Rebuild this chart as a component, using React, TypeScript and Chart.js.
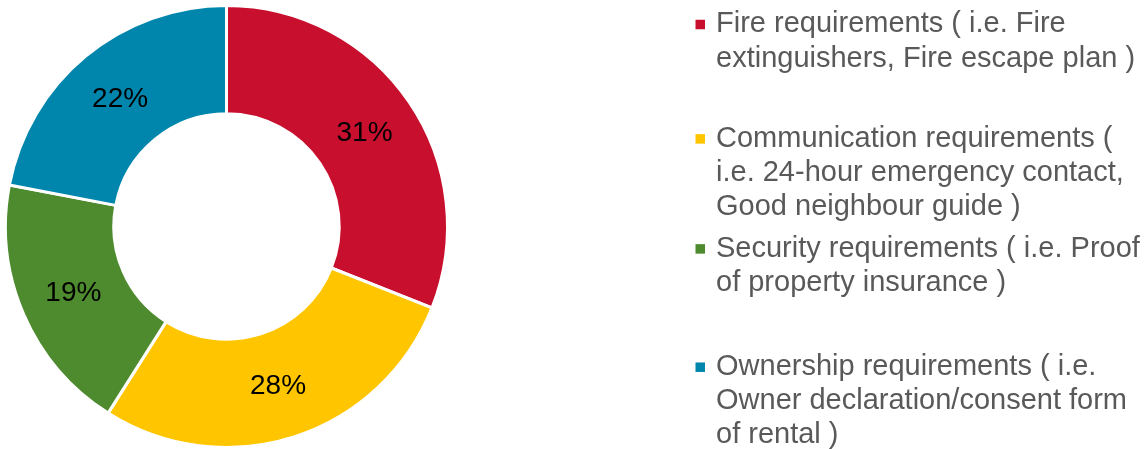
import React, { useEffect, useRef } from "react";
import { Chart, registerables } from "chart.js";

Chart.register(...registerables);

// ---- data ----
const categories: string[][] = [
  ["Fire requirements ( i.e. Fire", "extinguishers, Fire escape plan )"],
  ["Communication requirements (", "i.e. 24-hour emergency contact,", "Good neighbour guide )"],
  ["Security requirements ( i.e. Proof", "of property insurance )"],
  ["Ownership requirements ( i.e.", "Owner declaration/consent form", "of rental )"],
];
const shareValues: number[] = [31, 28, 19, 22];
const sliceColors: string[] = ["#C8102E", "#FFC600", "#4E8B2E", "#0086AD"];

// ---- layout / style ----
const FONT = '"Liberation Sans", Arial, sans-serif';
const LEGEND_X_MARKER = 695.5;
const LEGEND_X_TEXT = 716;
const LEGEND_BASELINES = [32.3, 146.7, 256.7, 375];
const LEGEND_LINE_H = 34.2;
const MARKER_SIZE = 9.5;

const pctLabelPlugin = {
  id: "pctLabels",
  afterDatasetsDraw(chart: any) {
    const ctx = chart.ctx;
    const meta = chart.getDatasetMeta(0);
    const data = chart.data.datasets[0].data as number[];
    ctx.save();
    ctx.font = `28px ${FONT}`;
    ctx.fillStyle = "#000000";
    ctx.textAlign = "center";
    ctx.textBaseline = "middle";
    meta.data.forEach((arc: any, i: number) => {
      const p = arc.tooltipPosition(false);
      ctx.fillText(`${data[i]}%`, p.x, p.y + 1);
    });
    ctx.restore();
  },
};

const sideLegendPlugin = {
  id: "sideLegend",
  afterDraw(chart: any) {
    const ctx = chart.ctx;
    const labels = chart.data.labels as string[][];
    const colors = chart.data.datasets[0].backgroundColor as string[];
    ctx.save();
    ctx.font = `29px ${FONT}`;
    ctx.textAlign = "left";
    ctx.textBaseline = "alphabetic";
    labels.forEach((lines, i) => {
      const base = LEGEND_BASELINES[i];
      ctx.fillStyle = colors[i];
      ctx.fillRect(LEGEND_X_MARKER, base - 7.8 - MARKER_SIZE / 2, MARKER_SIZE, MARKER_SIZE);
      ctx.fillStyle = "#595959";
      lines.forEach((line, j) => {
        ctx.fillText(line, LEGEND_X_TEXT, base + j * LEGEND_LINE_H);
      });
    });
    ctx.restore();
  },
};

export default function App() {
  const canvasRef = useRef<HTMLCanvasElement | null>(null);

  useEffect(() => {
    if (!canvasRef.current) return;
    const chart = new Chart(canvasRef.current, {
      type: "doughnut",
      data: {
        labels: categories as any,
        datasets: [
          {
            data: shareValues,
            backgroundColor: sliceColors,
            borderColor: "#ffffff",
            borderWidth: 3,
          },
        ],
      },
      options: {
        responsive: false,
        animation: false,
        cutout: "51%",
        layout: { padding: { left: 4, top: 4, right: 1146 - 449, bottom: 0 } },
        plugins: {
          legend: { display: false },
          tooltip: { enabled: false },
        },
      },
      plugins: [pctLabelPlugin, sideLegendPlugin],
    });
    return () => chart.destroy();
  }, []);

  return (
    <div style={{ position: "absolute", left: 0, top: 0, width: 1146, height: 449, background: "#fff" }}>
      <canvas ref={canvasRef} width={1146} height={449} />
    </div>
  );
}
